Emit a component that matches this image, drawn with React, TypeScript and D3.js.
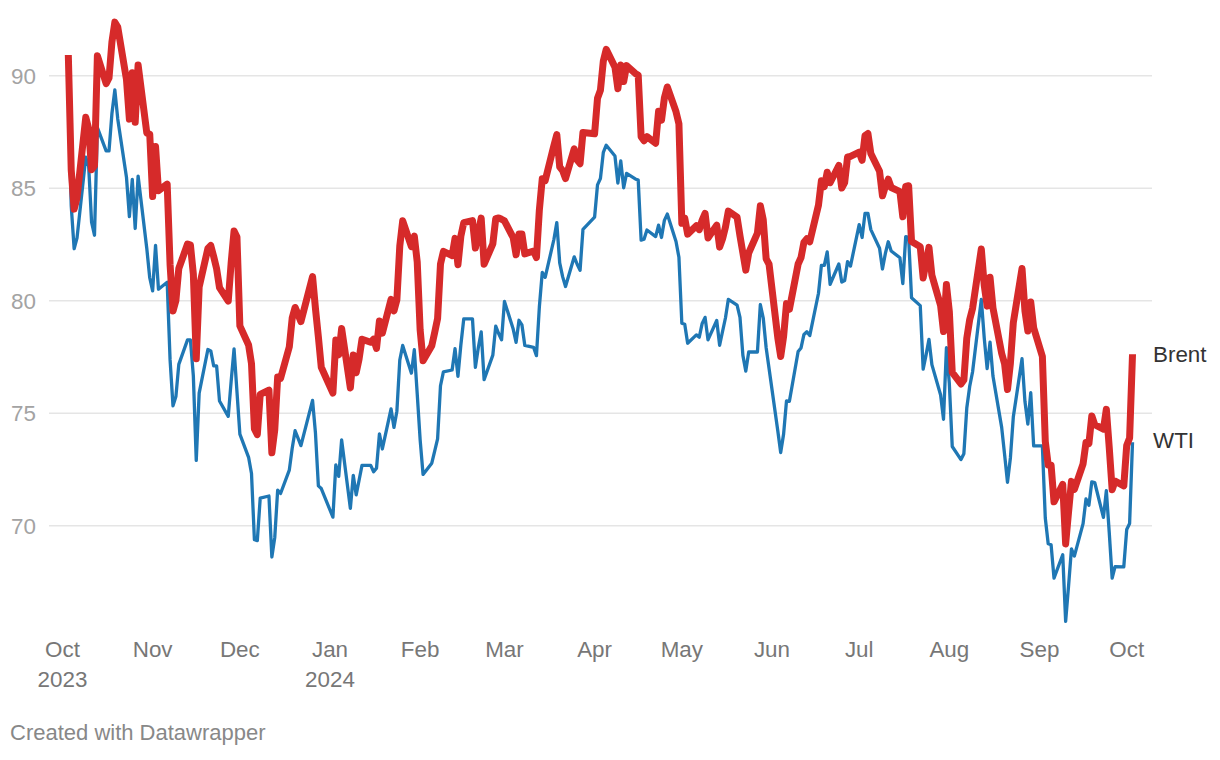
import React from "react";
import * as d3 from "d3";

// ---- Data (daily closes, USD per barrel), weekdays from 3 Oct 2023 to 3 Oct 2024 ----
const firstDay = "2023-10-03";
const lastDay = "2024-10-03";

const brentOct23 = [90.92, 85.81, 84.07, 84.58, 88.15, 87.65, 85.82, 86.0, 90.89, 89.65, 89.9, 91.5, 92.38, 92.16, 89.83, 88.07, 90.13, 87.93, 90.48, 87.45, 87.41];
const brentNov23 = [84.63, 86.85, 84.89, 85.18, 81.61, 79.54, 80.01, 81.43, 82.52, 82.47, 81.18, 77.42, 80.61, 82.32, 82.45, 81.96, 81.42, 80.58, 79.98, 81.68, 83.1, 82.83];
const brentDec23 = [78.88, 78.03, 77.2, 74.3, 74.05, 75.84, 76.03, 73.24, 74.26, 76.61, 76.55, 77.95, 79.23, 79.7, 79.39, 79.07, null, 81.07, 79.65, 78.39, 77.04];
const brentJan24 = [null, 75.89, 78.25, 77.59, 78.76, 76.12, 77.59, 76.8, 77.41, 78.29, 78.15, 78.29, 77.88, 79.1, 78.56, 80.06, 79.55, 80.04, 82.43, 83.55, 82.4, 82.87, 81.71];
const brentFeb24 = [78.7, 77.33, 78.0, 78.59, 79.21, 81.63, 82.19, 82.0, 82.77, 81.6, 82.86, 83.47, 83.56, 82.34, 83.03, 83.67, 81.62, 82.53, 83.65, 83.68, 83.62];
const brentMar24 = [83.55, 82.8, 82.04, 82.96, 82.96, 82.08, 82.21, 81.92, 84.03, 85.42, 85.34, 86.89, 87.38, 85.95, 85.78, 85.43, 86.75, 86.25, 86.09, 87.48, null];
const brentApr24 = [87.42, 89.0, 89.35, 90.65, 91.17, 90.38, 89.42, 90.48, 89.74, 90.45, 90.1, 90.02, 87.29, 87.11, 87.29, 87.0, 88.42, 88.02, 89.01, 89.5, 88.4, 87.86];
const brentMay24 = [83.44, 83.67, 82.96, 83.33, 83.16, 83.58, 83.88, 82.79, 83.36, 82.38, 82.75, 83.27, 83.98, 83.71, 82.88, 82.12, 81.36, 82.12, 83.0, 84.22, 83.6, 81.86, 81.62];
const brentJun24 = [78.36, 77.52, 78.41, 79.87, 79.62, 81.63, 81.92, 82.6, 82.75, 82.62, 84.25, 85.33, 85.07, 85.71, 85.24, 86.01, 85.01, 85.25, 86.39, 86.41];
const brentJul24 = [86.6, 86.24, 87.34, 87.43, 86.54, 85.75, 84.66, 85.08, 85.4, 85.03, 84.85, 83.73, 85.08, 85.11, 82.63, 82.4, 81.01, 81.71, 82.37, 81.13, 79.78, 78.63, 80.72];
const brentAug24 = [79.52, 76.81, 76.3, 76.48, 78.33, 79.16, 79.66, 82.3, 80.69, 79.76, 81.04, 79.68, 77.66, 77.2, 76.05, 77.22, 79.02, 81.43, 79.55, 78.65, 79.94, 78.8];
const brentSep24 = [77.52, 73.75, 72.7, 72.69, 71.06, 71.84, 69.19, 70.61, 71.97, 71.61, 72.75, 73.7, 73.65, 74.88, 74.49, 74.29, 75.17, 73.46, 71.6, 71.98, 71.77];
const brentOct24 = [73.56, 73.9, 77.62];

const wtiOct23 = [89.23, 84.22, 82.31, 82.79, 86.38, 85.97, 83.49, 82.91, 87.69, 86.66, 86.66, 88.32, 89.37, 88.08, 85.49, 83.74, 85.39, 83.21, 85.54, 82.31, 81.02];
const wtiNov23 = [80.44, 82.46, 80.51, 80.82, 77.37, 75.33, 75.74, 77.17, 78.26, 78.26, 76.66, 72.9, 75.89, 77.83, 77.77, 77.1, 77.1, 75.54, 74.86, 76.41, 77.86, 75.96];
const wtiDec23 = [74.07, 73.04, 72.32, 69.38, 69.34, 71.23, 71.32, 68.61, 69.47, 71.58, 71.43, 72.47, 73.44, 74.22, 73.89, 73.56, null, 75.57, 74.11, 71.77, 71.65];
const wtiJan24 = [null, 70.38, 72.7, 72.19, 73.81, 70.77, 72.24, 71.37, 72.02, 72.68, 72.68, 72.4, 72.56, 74.08, 73.41, 75.19, 74.37, 75.09, 77.36, 78.01, 76.78, 77.82, 75.85];
const wtiFeb24 = [73.82, 72.28, 72.78, 73.31, 73.86, 76.22, 76.84, 76.92, 77.87, 76.64, 78.03, 79.19, 79.19, 77.04, 77.91, 78.61, 76.49, 77.58, 78.87, 78.54, 78.26];
const wtiMar24 = [79.97, 78.74, 78.15, 79.13, 78.93, 78.01, 77.93, 77.56, 79.72, 81.26, 81.04, 82.72, 83.47, 81.68, 81.07, 80.63, 81.95, 81.62, 81.35, 83.17, null];
const wtiApr24 = [83.71, 85.15, 85.43, 86.59, 86.91, 86.43, 85.23, 86.21, 85.02, 85.66, 85.41, 85.36, 82.69, 82.73, 83.14, 82.85, 83.36, 82.81, 83.57, 83.85, 82.63, 81.93];
const wtiMay24 = [79.0, 78.95, 78.11, 78.48, 78.38, 78.99, 79.26, 78.26, 79.12, 78.02, 78.63, 79.23, 80.06, 79.8, 79.26, 77.57, 76.87, 77.72, 77.72, 79.83, 79.23, 77.91, 76.99];
const wtiJun24 = [74.22, 73.25, 74.07, 75.55, 75.53, 77.74, 77.9, 78.5, 78.62, 78.45, 80.33, 81.57, 81.57, 82.17, 80.73, 81.63, 80.83, 80.9, 81.74, 81.54];
const wtiJul24 = [83.38, 82.81, 83.88, 83.88, 83.16, 82.33, 81.41, 82.1, 82.62, 82.21, 81.91, 80.76, 82.85, 82.82, 80.13, 79.78, 76.96, 77.59, 78.28, 77.16, 75.81, 74.73, 77.91];
const wtiAug24 = [76.31, 73.52, 72.94, 73.2, 75.23, 76.19, 76.84, 80.06, 78.35, 76.98, 78.16, 76.65, 74.37, 73.17, 71.93, 73.01, 74.83, 77.42, 75.53, 74.52, 75.91, 73.55];
const wtiSep24 = [73.55, 70.34, 69.2, 69.15, 67.67, 68.71, 65.75, 67.31, 68.97, 68.65, 70.09, 71.19, 70.91, 71.95, 71.92, 70.37, 71.56, 69.69, 67.67, 68.18, 68.17];
const wtiOct24 = [69.83, 70.1, 73.71];

const brentValues = [
  ...brentOct23, ...brentNov23, ...brentDec23, ...brentJan24, ...brentFeb24, ...brentMar24,
  ...brentApr24, ...brentMay24, ...brentJun24, ...brentJul24, ...brentAug24, ...brentSep24, ...brentOct24,
];
const wtiValues = [
  ...wtiOct23, ...wtiNov23, ...wtiDec23, ...wtiJan24, ...wtiFeb24, ...wtiMar24,
  ...wtiApr24, ...wtiMay24, ...wtiJun24, ...wtiJul24, ...wtiAug24, ...wtiSep24, ...wtiOct24,
];

const yTicks = [70, 75, 80, 85, 90];
const monthLabels = ["Oct", "Nov", "Dec", "Jan", "Feb", "Mar", "Apr", "May", "Jun", "Jul", "Aug", "Sep", "Oct"];
const yearLabels = ["2023", "", "", "2024", "", "", "", "", "", "", "", "", ""];
const seriesNames = ["WTI", "Brent"];
const seriesColors = ["#1f77b4", "#d62a2a"];
const seriesWidths = [3.3, 7];
const labelNudge = [-2, 0];

const parse = d3.utcParse("%Y-%m-%d");

export default function App() {
  const start = parse(firstDay) as Date;
  const end = d3.utcDay.offset(parse(lastDay) as Date, 1);
  const dates = d3.utcDay.range(start, end).filter((d) => d.getUTCDay() !== 0 && d.getUTCDay() !== 6);

  const tickDates = d3.utcMonth.range(new Date(Date.UTC(2023, 9, 1)), new Date(Date.UTC(2024, 9, 2)));

  const x = d3
    .scaleUtc()
    .domain([new Date(Date.UTC(2023, 9, 1)), new Date(Date.UTC(2024, 9, 1))])
    .range([62.5, 1126.7]);
  const y = d3.scaleLinear().domain([70, 90]).range([525.7, 75.7]);

  const series = [wtiValues, brentValues].map((vals) =>
    dates
      .map((d, i) => ({ date: d, value: vals[i] as number | null }))
      .filter((p) => p.value !== null && p.value !== undefined)
  );

  const line = d3
    .line<{ date: Date; value: number | null }>()
    .x((d) => x(d.date))
    .y((d) => y(d.value as number));

  const font = "'Liberation Sans', Arial, Helvetica, sans-serif";

  return (
    <svg
      width={1220}
      height={760}
      style={{ position: "absolute", left: 0, top: 0, background: "#fff" }}
      fontFamily={font}
    >
      <rect x={0} y={0} width={1220} height={760} fill="#fff" />
      {yTicks.map((t) => (
        <g key={t}>
          <line x1={49} x2={1152} y1={y(t)} y2={y(t)} stroke="#e5e5e5" strokeWidth={1.5} />
          <text x={36} y={y(t)} dy="0.35em" textAnchor="end" fontSize={22.4} fill="#a3a3a3">
            {t}
          </text>
        </g>
      ))}
      {tickDates.map((d, i) => (
        <g key={i}>
          <text x={x(d)} y={657} textAnchor="middle" fontSize={22.4} fill="#777">
            {monthLabels[i]}
          </text>
          {yearLabels[i] ? (
            <text x={x(d)} y={687} textAnchor="middle" fontSize={22.4} fill="#777">
              {yearLabels[i]}
            </text>
          ) : null}
        </g>
      ))}
      {series.map((s, i) => (
        <path
          key={seriesNames[i]}
          d={line(s) || ""}
          fill="none"
          stroke={seriesColors[i]}
          strokeWidth={seriesWidths[i]}
          strokeLinejoin="round"
          strokeLinecap="butt"
        />
      ))}
      {series.map((s, i) => {
        const last = s[s.length - 1];
        return (
          <text
            key={"l" + i}
            x={1153}
            y={y(last.value as number) + labelNudge[i]}
            dy="0.35em"
            fontSize={22.4}
            fill="#333"
          >
            {seriesNames[i]}
          </text>
        );
      })}
      <text x={10} y={740} fontSize={22} fill="#888">
        Created with Datawrapper
      </text>
    </svg>
  );
}
